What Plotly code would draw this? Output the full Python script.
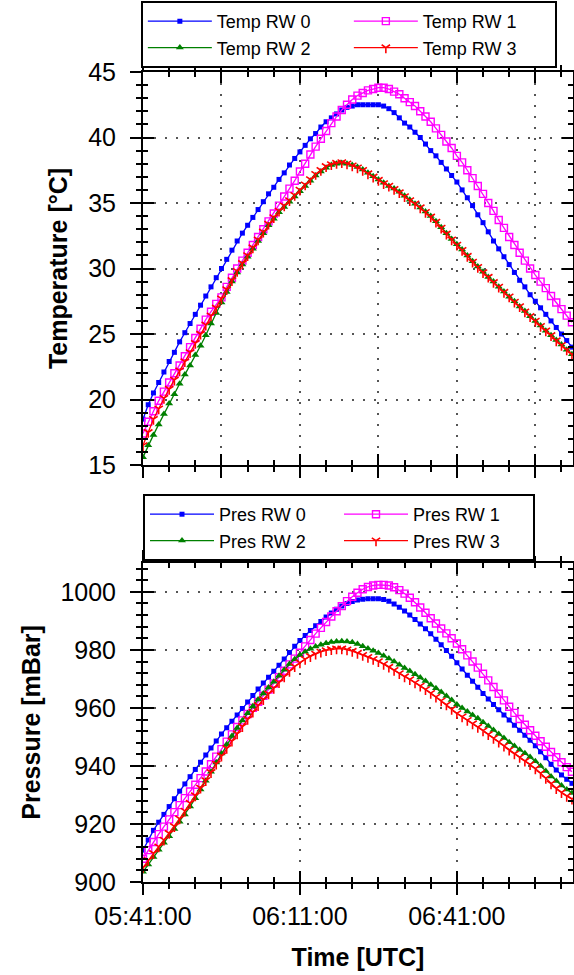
import plotly.graph_objects as go
import pandas as pd

# ---------------- data ----------------
start_time = "2021-06-01 05:41:00"
end_time = "2021-06-01 07:03:12"
minutes = list(range(83))
times = [pd.Timestamp(start_time) + pd.Timedelta(minutes=m) for m in minutes]

temp_rw0 = [18.5, 19.6, 20.5, 21.3, 22.1, 22.9, 23.6, 24.4, 25.1, 25.8,
            26.5, 27.2, 27.9, 28.6, 29.3, 30.0, 30.7, 31.4, 32.1, 32.7,
            33.3, 33.9, 34.5, 35.1, 35.7, 36.2, 36.8, 37.3, 37.9, 38.4,
            38.9, 39.4, 39.9, 40.3, 40.8, 41.2, 41.5, 41.8, 42.1, 42.3,
            42.4, 42.5, 42.5, 42.5, 42.5, 42.5, 42.4, 42.2, 41.9, 41.5,
            41.1, 40.8, 40.4, 40.0, 39.5, 39.0, 38.6, 38.1, 37.6, 37.1,
            36.6, 36.0, 35.4, 34.8, 34.1, 33.5, 32.8, 32.1, 31.5, 30.9,
            30.3, 29.7, 29.1, 28.6, 28.0, 27.5, 27.0, 26.5, 26.0, 25.5,
            25.0, 24.5, 24.0]
temp_rw1 = [17.4, 18.3, 19.1, 19.9, 20.6, 21.3, 22.0, 22.6, 23.3, 24.0,
            24.7, 25.4, 26.1, 26.7, 27.3, 27.8, 28.6, 29.3, 30.0, 30.6,
            31.2, 31.8, 32.4, 33.0, 33.6, 34.2, 34.8, 35.5, 36.1, 36.7,
            37.4, 38.0, 38.7, 39.3, 39.9, 40.5, 41.1, 41.6, 42.1, 42.5,
            42.9, 43.2, 43.4, 43.6, 43.7, 43.8, 43.8, 43.7, 43.5, 43.3,
            43.0, 42.7, 42.4, 42.0, 41.6, 41.2, 40.7, 40.2, 39.7, 39.2,
            38.6, 38.1, 37.5, 36.9, 36.3, 35.7, 35.0, 34.4, 33.7, 33.1,
            32.4, 31.8, 31.2, 30.6, 30.0, 29.5, 29.0, 28.5, 27.9, 27.4,
            26.9, 26.4, 25.9]
temp_rw2 = [15.6, 16.5, 17.3, 18.1, 18.9, 19.7, 20.4, 21.2, 21.9, 22.6,
            23.4, 24.1, 24.9, 25.8, 26.6, 27.4, 28.2, 29.0, 29.7, 30.3,
            30.9, 31.5, 32.1, 32.7, 33.3, 33.8, 34.3, 34.7, 35.1, 35.5,
            35.9, 36.3, 36.7, 37.1, 37.4, 37.7, 37.9, 38.0, 38.05, 38.0,
            37.9, 37.75, 37.55, 37.3, 37.05, 36.8, 36.55, 36.3, 36.1, 35.85,
            35.55, 35.25, 34.95, 34.65, 34.35, 34.0, 33.6, 33.15, 32.7, 32.25,
            31.85, 31.45, 31.0, 30.55, 30.15, 29.75, 29.35, 29.0, 28.6, 28.25,
            27.85, 27.5, 27.1, 26.75, 26.35, 26.0, 25.65, 25.25, 24.9, 24.55,
            24.2, 23.8, 23.45]
temp_rw3 = [16.5, 17.5, 18.5, 19.3, 20.1, 20.8, 21.5, 22.2, 22.9, 23.6,
            24.3, 25.0, 25.7, 26.4, 27.0, 27.7, 28.4, 29.1, 29.8, 30.4,
            31.0, 31.6, 32.2, 32.8, 33.4, 33.9, 34.4, 34.8, 35.2, 35.6,
            36.0, 36.4, 36.8, 37.2, 37.5, 37.8, 37.95, 38.05, 38.1, 38.0,
            37.85, 37.7, 37.5, 37.25, 37.0, 36.75, 36.5, 36.3, 36.05, 35.8,
            35.5, 35.2, 34.95, 34.65, 34.3, 33.95, 33.55, 33.1, 32.65, 32.2,
            31.8, 31.4, 30.95, 30.5, 30.1, 29.7, 29.35, 28.95, 28.6, 28.2,
            27.85, 27.45, 27.1, 26.7, 26.35, 26.0, 25.6, 25.25, 24.9, 24.5,
            24.15, 23.8, 23.45]

pres_rw0 = [911.0, 914.5, 917.8, 920.6, 923.3, 926.0, 928.7, 931.3, 933.8, 936.3,
            938.8, 941.3, 943.8, 946.2, 948.6, 951.0, 953.2, 955.4, 957.6, 959.8,
            962.0, 964.3, 966.5, 968.6, 970.6, 972.6, 974.7, 976.9, 979.1, 981.3,
            983.2, 985.0, 986.7, 988.3, 989.8, 991.3, 992.7, 994.0, 995.1, 996.0,
            996.7, 997.2, 997.5, 997.6, 997.6, 997.6, 997.4, 996.8, 995.8, 994.7,
            993.4, 992.0, 990.5, 988.9, 987.3, 985.6, 983.7, 981.8, 979.8, 977.8,
            975.6, 973.4, 971.3, 969.2, 967.1, 965.0, 963.1, 961.2, 959.4, 957.6,
            955.8, 954.0, 952.3, 950.6, 948.9, 947.0, 944.9, 942.8, 940.6, 938.6,
            936.9, 935.4, 934.0]
pres_rw1 = [908.0, 911.0, 913.8, 916.5, 919.1, 921.6, 924.1, 926.5, 928.9, 931.2,
            933.5, 935.8, 938.1, 940.6, 943.2, 945.8, 948.4, 950.9, 953.4, 955.7,
            957.9, 960.0, 962.1, 964.2, 966.3, 968.4, 970.6, 972.8, 975.0, 977.0,
            979.0, 981.2, 983.4, 985.6, 987.6, 989.6, 991.5, 993.3, 995.1, 996.8,
            998.3, 999.7, 1000.9, 1001.7, 1002.2, 1002.4, 1002.4, 1002.2, 1001.6, 1000.6,
            999.4, 998.0, 996.4, 994.6, 992.8, 990.9, 989.1, 987.4, 985.7, 984.0,
            982.2, 980.2, 978.1, 976.0, 973.9, 971.8, 969.5, 967.2, 964.9, 962.6,
            960.4, 958.3, 956.2, 954.2, 952.3, 950.4, 948.5, 946.6, 944.8, 943.0,
            941.3, 939.6, 938.0]
pres_rw2 = [903.5, 906.0, 908.6, 911.1, 913.5, 915.8, 918.3, 920.8, 923.3, 926.0,
            928.9, 931.9, 934.9, 938.0, 941.2, 944.3, 947.4, 950.3, 953.1, 955.7,
            958.2, 960.6, 962.9, 965.0, 967.0, 969.0, 971.1, 973.2, 975.1, 976.8,
            978.2, 979.4, 980.4, 981.2, 981.8, 982.3, 982.7, 982.9, 983.0, 982.9,
            982.6, 982.0, 981.3, 980.5, 979.7, 978.9, 978.0, 977.0, 976.0, 974.9,
            973.8, 972.7, 971.6, 970.5, 969.3, 968.0, 966.8, 965.5, 964.1, 962.7,
            961.2, 960.0, 958.8, 957.6, 956.4, 955.1, 953.8, 952.4, 951.0, 949.6,
            948.2, 946.9, 945.6, 944.4, 943.1, 941.6, 940.0, 938.3, 936.4, 934.8,
            933.3, 931.9, 930.7]
pres_rw3 = [905.0, 907.5, 909.9, 912.2, 914.5, 916.8, 919.2, 921.8, 924.5, 927.2,
            929.8, 932.4, 935.0, 937.8, 940.7, 943.5, 946.1, 948.6, 951.1, 953.6,
            956.1, 958.6, 960.9, 962.9, 964.9, 966.8, 968.8, 970.8, 972.7, 974.3,
            975.6, 976.8, 977.8, 978.6, 979.3, 979.8, 980.2, 980.4, 980.4, 980.1,
            979.6, 978.9, 978.2, 977.5, 976.8, 976.0, 975.1, 974.1, 973.0, 971.9,
            970.8, 969.8, 968.7, 967.6, 966.4, 965.1, 963.8, 962.5, 961.1, 959.6,
            958.1, 957.0, 955.8, 954.6, 953.4, 952.2, 950.9, 949.6, 948.3, 946.9,
            945.5, 944.2, 943.0, 941.7, 940.5, 939.1, 937.5, 935.8, 933.9, 932.3,
            930.9, 929.6, 928.6]

temp_names = ["Temp RW 0", "Temp RW 1", "Temp RW 2", "Temp RW 3"]
pres_names = ["Pres RW 0", "Pres RW 1", "Pres RW 2", "Pres RW 3"]

# ---------------- style ----------------
FONT = "Liberation Sans, Arial, sans-serif"
colors = ["#0000FF", "#FF00FF", "#008000", "#FF0000"]
markers = [dict(symbol="square", size=5),
           dict(symbol="square-open", size=7, line=dict(width=1.4)),
           dict(symbol="triangle-up", size=7),
           dict(symbol="y-down-open", size=7, line=dict(width=1.6))]

fig = go.Figure()
temps = [temp_rw0, temp_rw1, temp_rw2, temp_rw3]
press = [pres_rw0, pres_rw1, pres_rw2, pres_rw3]


def marker_for(i):
    mk = dict(markers[i])
    mk["color"] = colors[i]
    if "line" in mk:
        mk["line"] = dict(mk["line"], color=colors[i])
    return mk


for i in range(4):
    fig.add_trace(go.Scatter(x=times, y=temps[i], name=temp_names[i], mode="lines+markers",
                             line=dict(color=colors[i], width=1.3), marker=marker_for(i),
                             xaxis="x", yaxis="y", legend="legend"))
for i in range(4):
    fig.add_trace(go.Scatter(x=times, y=press[i], name=pres_names[i], mode="lines+markers",
                             line=dict(color=colors[i], width=1.3), marker=marker_for(i),
                             xaxis="x2", yaxis="y2", legend="legend2"))

# invisible traces so the inner-tick overlay axes get drawn
fig.add_trace(go.Scatter(x=[times[0]], y=[20], mode="markers", marker=dict(opacity=0),
                         showlegend=False, hoverinfo="skip", xaxis="x3", yaxis="y3"))
fig.add_trace(go.Scatter(x=[times[0]], y=[950], mode="markers", marker=dict(opacity=0),
                         showlegend=False, hoverinfo="skip", xaxis="x4", yaxis="y4"))

MIN = 60 * 1000
xr = [start_time, end_time]
tickfont = dict(family=FONT, size=25, color="#000")
grid = dict(showgrid=True, gridcolor="#555", gridwidth=1.5, griddash="2px,9px")
title_font = dict(family=FONT, size=25, weight="bold", color="#000")


def xbase(dtick, labels, inside=False):
    side = "inside" if inside else "outside"
    return dict(type="date", range=xr, tick0=start_time, dtick=dtick * MIN,
                ticks=side, ticklen=11, tickwidth=2,
                tickcolor="#000", mirror="ticks", showticklabels=labels,
                tickformat="%H:%M:%S", tickfont=tickfont, zeroline=False,
                minor=dict(dtick=5 * MIN, tick0=start_time, ticks=side,
                           ticklen=5, tickwidth=1.5, tickcolor="#000", showgrid=False))


def ybase(rng, dtick, mdtick, inside=False):
    side = "inside" if inside else "outside"
    return dict(range=rng, tick0=rng[0], dtick=dtick,
                ticks=side, ticklen=11, tickwidth=2,
                tickcolor="#000", mirror="ticks", tickfont=tickfont, zeroline=False,
                minor=dict(dtick=mdtick, ticks=side,
                           ticklen=5, tickwidth=1.5, tickcolor="#000", showgrid=False))


top_dom = [0.5148, 1.0]
bot_dom = [0.0, 0.394]

xaxis = xbase(15, False)
xaxis.update(grid)
xaxis.update(domain=[0, 1], anchor="y", showline=True, linewidth=2, linecolor="#000")
xaxis2 = xbase(30, True)
xaxis2.update(grid)
xaxis2.update(domain=[0, 1], anchor="y2", showline=True, linewidth=2, linecolor="#000",
              ticklabelstandoff=0,
              title=dict(text="Time [UTC]", standoff=19, font=title_font))
xaxis3 = xbase(15, False, inside=True)
xaxis3.update(overlaying="x", anchor="y", showgrid=False, showline=False)
xaxis4 = xbase(30, False, inside=True)
xaxis4.update(overlaying="x2", anchor="y2", showgrid=False, showline=False)

yaxis = ybase([15, 45], 5, 1)
yaxis.update(grid)
yaxis.update(domain=top_dom, anchor="x", showline=True, linewidth=2, linecolor="#000",
             ticklabelstandoff=9,
             title=dict(text="Temperature [°C]", standoff=13, font=title_font))
yaxis2 = ybase([900, 1010], 20, 4)
yaxis2.update(grid)
yaxis2.update(domain=bot_dom, anchor="x2", showline=True, linewidth=2, linecolor="#000",
              ticklabelstandoff=9,
              title=dict(text="Pressure [mBar]", standoff=13, font=title_font))
yaxis3 = ybase([15, 45], 5, 1, inside=True)
yaxis3.update(overlaying="y", anchor="x", showgrid=False, showline=False, showticklabels=False)
yaxis4 = ybase([900, 1010], 20, 4, inside=True)
yaxis4.update(overlaying="y2", anchor="x2", showgrid=False, showline=False, showticklabels=False)

legend_common = dict(orientation="h", xanchor="left", yanchor="top", bgcolor="#fff",
                     bordercolor="#000", borderwidth=2, traceorder="normal",
                     font=dict(family=FONT, size=18, color="#000"), itemwidth=64)

fig.update_layout(
    width=574, height=975,
    margin=dict(l=143, r=1, t=72, b=93, autoexpand=False),
    paper_bgcolor="#fff", plot_bgcolor="#fff",
    font=dict(family=FONT, color="#000"),
    xaxis=xaxis, xaxis2=xaxis2, xaxis3=xaxis3, xaxis4=xaxis4,
    yaxis=yaxis, yaxis2=yaxis2, yaxis3=yaxis3, yaxis4=yaxis4,
    legend=dict(legend_common, x=-0.005, y=1.0877, entrywidth=127),
    legend2=dict(legend_common, x=0.0, y=0.479, entrywidth=115),
)

fig.write_html("out.html", config={"displayModeBar": False},
               post_script="document.body.style.margin='0px';")
